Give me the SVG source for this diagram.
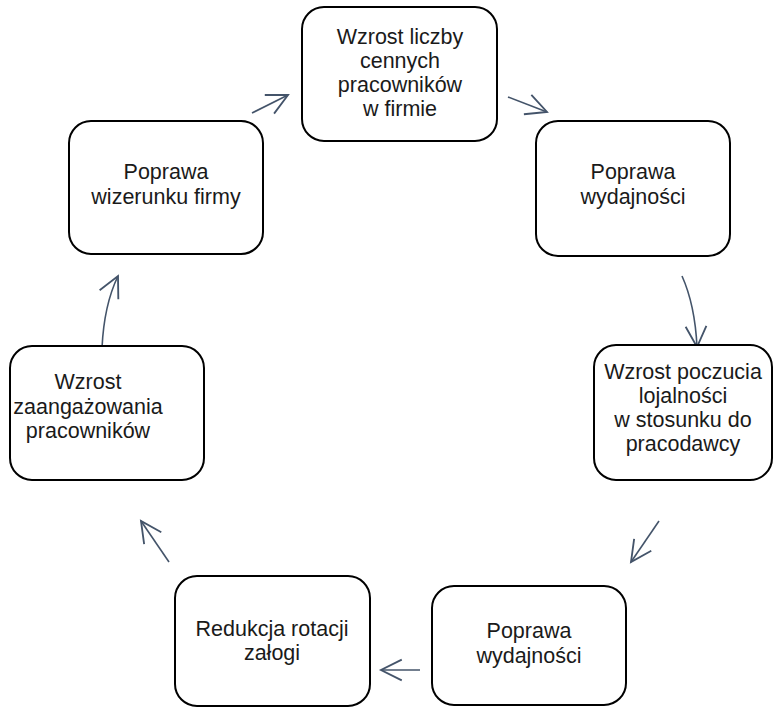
<svg xmlns="http://www.w3.org/2000/svg" width="779" height="707" viewBox="0 0 779 707">
<style>
.box{fill:#fff;stroke:#000;stroke-width:2}
.t{font-family:"Liberation Sans",Arial,sans-serif;font-size:21.5px;fill:#1a1a1a;text-anchor:middle}
.c{fill:none;stroke:#44546A;stroke-width:1.6}
</style>
<defs>
<marker id="ah" markerUnits="userSpaceOnUse" markerWidth="30" markerHeight="30" viewBox="-22 -12 26 24" refX="0" refY="0" orient="auto">
<polyline points="-18,-9 0,0 -18,9" fill="none" stroke="#44546A" stroke-width="1.6"/>
</marker>
</defs>
<rect width="779" height="707" fill="#fff"/>
<g id="connectors">
<path class="c" d="M252,113 L288,95" marker-end="url(#ah)"/>
<path class="c" d="M508,97 L547,112" marker-end="url(#ah)"/>
<path class="c" d="M682,276 Q695,305 697,347" marker-end="url(#ah)"/>
<path class="c" d="M659,521 L631,562" marker-end="url(#ah)"/>
<path class="c" d="M420,670 L381,670" marker-end="url(#ah)"/>
<path class="c" d="M169,562 L141,521" marker-end="url(#ah)"/>
<path class="c" d="M102,348 Q104,305 118,276" marker-end="url(#ah)"/>
</g>
<g id="n1"><rect class="box" x="302" y="7" width="195" height="134" rx="22"/>
<text class="t"><tspan x="400" y="44">Wzrost liczby</tspan><tspan x="400" y="68">cennych</tspan><tspan x="400" y="92">pracowników</tspan><tspan x="400" y="116">w firmie</tspan></text></g>
<g id="n2"><rect class="box" x="536" y="121" width="194" height="135" rx="22"/>
<text class="t"><tspan x="633" y="179">Poprawa</tspan><tspan x="633" y="204">wydajności</tspan></text></g>
<g id="n3"><rect class="box" x="594" y="345" width="178" height="135" rx="22"/>
<text class="t"><tspan x="683" y="379">Wzrost poczucia</tspan><tspan x="683" y="403">lojalności</tspan><tspan x="683" y="427">w stosunku do</tspan><tspan x="683" y="451">pracodawcy</tspan></text></g>
<g id="n4"><rect class="box" x="432" y="586" width="194" height="119" rx="22"/>
<text class="t"><tspan x="529" y="638">Poprawa</tspan><tspan x="529" y="663">wydajności</tspan></text></g>
<g id="n5"><rect class="box" x="175" y="576" width="195" height="130" rx="22"/>
<text class="t"><tspan x="272" y="636">Redukcja rotacji</tspan><tspan x="272" y="660">załogi</tspan></text></g>
<g id="n6"><rect class="box" x="10" y="346" width="194" height="134" rx="22"/>
<text class="t"><tspan x="88" y="389">Wzrost</tspan><tspan x="88" y="414">zaangażowania</tspan><tspan x="88" y="438">pracowników</tspan></text></g>
<g id="n7"><rect class="box" x="69" y="121" width="194" height="133" rx="22"/>
<text class="t"><tspan x="166" y="179">Poprawa</tspan><tspan x="166" y="204">wizerunku firmy</tspan></text></g>
</svg>
